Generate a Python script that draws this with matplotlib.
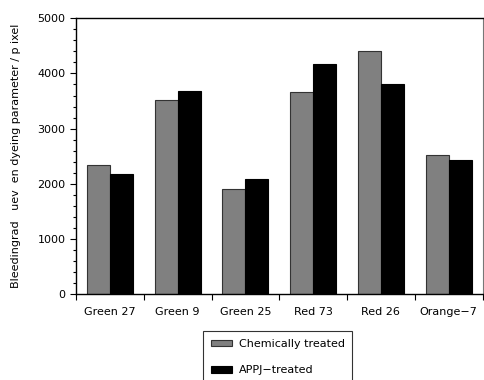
import matplotlib
matplotlib.use("Agg")
import matplotlib.pyplot as plt
from matplotlib.ticker import MultipleLocator
import numpy as np

# dyes and bleeding values
dyes = ["Green 27", "Green 9", "Green 25", "Red 73", "Red 26", "Orange\u22127"]
chemical = [2350, 3520, 1915, 3670, 4400, 2520]
appj = [2175, 3690, 2095, 4170, 3805, 2435]
series_names = ["Chemically treated", "APPJ\u2212treated"]

fig = plt.figure(figsize=(4.84, 3.80), dpi=100)
ax = fig.add_axes([0.157, 0.2255, 0.84, 0.7265])

x = np.arange(len(dyes))
w = 0.34
b1 = ax.bar(x - w / 2, chemical, w, color="#808080", edgecolor="#333333", linewidth=0.8)
b2 = ax.bar(x + w / 2, appj, w, color="black", edgecolor="black", linewidth=0.8)

ax.set_xlim(-0.5, len(dyes) - 0.5)
ax.set_ylim(0, 5000)
ax.yaxis.set_major_locator(MultipleLocator(1000))
ax.yaxis.set_minor_locator(MultipleLocator(200))

# category labels centred, ticks on the group boundaries
ax.set_xticks(x)
ax.set_xticklabels(dyes, fontsize=8)
ax.tick_params(axis="x", which="major", length=0, pad=9)
ax.set_xticks(np.arange(len(dyes) + 1) - 0.5, minor=True)
ax.tick_params(axis="x", which="minor", length=4, width=0.8)
ax.tick_params(axis="y", which="major", labelsize=8, length=4, width=0.8)
ax.tick_params(axis="y", which="minor", length=2, width=0.8)

for side in ["left", "bottom", "top"]:
    ax.spines[side].set_linewidth(1.0)
ax.spines["right"].set_color("#777777")
ax.spines["right"].set_linewidth(0.8)

ax.set_ylabel("Bleedingrad   uev  en dyeing parameter / p ixel", fontsize=8, labelpad=12)

leg = fig.legend([b1, b2], series_names, loc="upper left",
                 bbox_to_anchor=(203 / 484, 1 - 331 / 380), fontsize=8,
                 frameon=True, fancybox=False, edgecolor="black",
                 labelspacing=1.5, borderpad=0.7, handlelength=1.9,
                 handleheight=0.55, handletextpad=0.6, borderaxespad=0)
leg.get_frame().set_linewidth(0.8)

fig.savefig("out.png", dpi=100)
